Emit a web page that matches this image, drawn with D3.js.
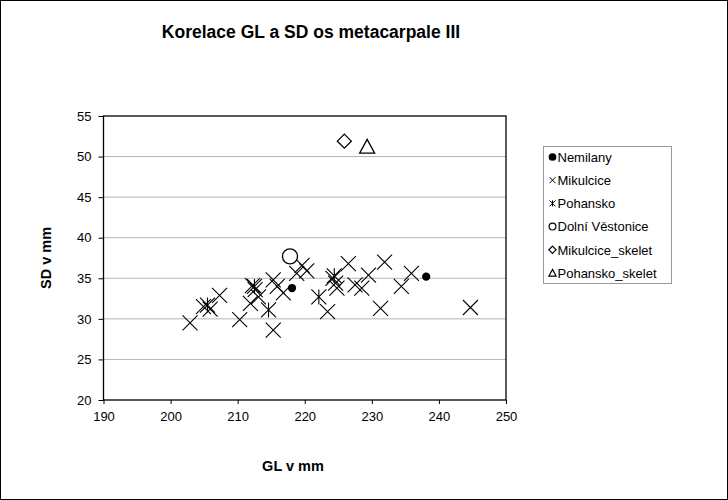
<!DOCTYPE html>
<html>
<head>
<meta charset="utf-8">
<script src="https://cdn.jsdelivr.net/npm/d3@7"></script>
<style>
  body { margin: 0; background: #fff; }
  text { font-family: Arial, "Liberation Sans", sans-serif; }
</style>
</head>
<body>
<div id="chart"></div>
<script>
// Data
const nemilany = [[218.1, 33.8], [238.1, 35.2]];
const mikulcice = [
    [202.9, 29.5], [204.9, 31.5], [205.9, 31.2], [207.3, 32.9], [210.3, 29.9],
    [212.6, 33.6], [211.9, 31.9], [213.1, 32.7], [215.3, 28.6], [215.3, 34.8],
    [215.9, 34.0], [216.8, 33.2], [219.6, 36.6], [218.8, 35.6], [220.3, 35.9],
    [223.4, 30.9], [224.6, 34.4], [224.8, 33.8], [226.5, 36.8], [229.5, 35.4],
    [227.5, 34.2], [228.5, 33.8], [231.9, 37.0], [234.4, 34.0], [235.9, 35.6],
    [231.3, 31.3], [244.7, 31.4], [212.2, 34.1], [224.2, 35.0]
];
const pohansko = [[214.6, 31.1], [222.1, 32.7], [205.5, 31.7], [212.5, 34.0], [224.4, 35.3]];
const dolniVestonice = [[217.8, 37.7]];
const mikulciceSkelet = [[225.9, 51.9]];
const pohanskoSkelet = [[229.3, 51.2]];

const seriesNames = ['Nemilany', 'Mikulcice', 'Pohansko', 'Dolní Věstonice', 'Mikulcice_skelet', 'Pohansko_skelet'];
const seriesData = [nemilany, mikulcice, pohansko, dolniVestonice, mikulciceSkelet, pohanskoSkelet];
const xTicks = [190, 200, 210, 220, 230, 240, 250];
const yTicks = [20, 25, 30, 35, 40, 45, 50, 55];

const width = 728, height = 500;
const plot = { left: 103.5, right: 506, top: 116, bottom: 400 };

const svg = d3.select('#chart').append('svg').attr('width', width).attr('height', height);
svg.append('rect').attr('x', 0.5).attr('y', 0.5).attr('width', width - 1).attr('height', height - 1)
    .attr('fill', '#fff').attr('stroke', '#000');

const xScale = d3.scaleLinear([190, 250], [plot.left, plot.right]);
const yScale = d3.scaleLinear([20, 55], [plot.bottom, plot.top]);

// Gridlines
svg.append('g').selectAll('line').data(yTicks.filter(t => t > 20 && t < 55))
    .join('line')
    .attr('x1', plot.left).attr('x2', plot.right)
    .attr('y1', d => yScale(d)).attr('y2', d => yScale(d))
    .attr('stroke', '#b4b4b4').attr('stroke-width', 1);

// Axes
const yAxis = svg.append('g').attr('transform', `translate(${plot.left}, 0)`)
    .call(d3.axisLeft(yScale).tickValues(yTicks).tickSize(5).tickPadding(7));
const xAxis = svg.append('g').attr('transform', `translate(0, ${plot.bottom})`)
    .call(d3.axisBottom(xScale).tickValues(xTicks).tickSize(4).tickPadding(8));
[xAxis, yAxis].forEach(a => {
    a.select('.domain').remove();
    a.selectAll('line').attr('stroke', '#000');
    a.selectAll('text').attr('font-size', 13).attr('fill', '#000')
        .attr('font-family', 'Arial, "Liberation Sans", sans-serif');
});

// Plot frame
svg.append('rect').attr('x', plot.left).attr('y', plot.top)
    .attr('width', plot.right - plot.left).attr('height', plot.bottom - plot.top)
    .attr('fill', 'none').attr('stroke', '#000').attr('stroke-width', 1.3);

// Marker shapes
const drawMarker = (g, type, s, sw) => {
    if (type === 0) {
        g.append('circle').attr('r', s * 0.55).attr('fill', '#000');
    } else if (type === 1) {
        g.append('path').attr('d', `M${-s},${-s}L${s},${s}M${-s},${s}L${s},${-s}`)
            .attr('stroke', '#000').attr('fill', 'none').attr('stroke-width', sw);
    } else if (type === 2) {
        g.append('path').attr('d', `M${-s},${-s}L${s},${s}M${-s},${s}L${s},${-s}M0,${-s}L0,${s}`)
            .attr('stroke', '#000').attr('fill', 'none').attr('stroke-width', sw);
    } else if (type === 3) {
        g.append('circle').attr('r', s).attr('fill', '#fff').attr('stroke', '#000').attr('stroke-width', sw + 0.2);
    } else if (type === 4) {
        g.append('path').attr('d', `M0,${-s}L${s},0L0,${s}L${-s},0Z`)
            .attr('fill', '#fff').attr('stroke', '#000').attr('stroke-width', sw + 0.2);
    } else {
        g.append('path').attr('d', `M0,${-s}L${s},${s * 0.85}L${-s},${s * 0.85}Z`)
            .attr('fill', '#fff').attr('stroke', '#000').attr('stroke-width', sw + 0.2);
    }
};

const plotSizes = [7.5, 7.5, 7.5, 7.5, 7, 7.5];
seriesData.forEach((points, i) => {
    svg.append('g').selectAll('g').data(points)
        .join('g')
        .attr('transform', d => `translate(${xScale(d[0])}, ${yScale(d[1])})`)
        .each(function() { drawMarker(d3.select(this), i, plotSizes[i], 1.1); });
});

// Titles
svg.append('text').attr('x', 311).attr('y', 38).attr('text-anchor', 'middle')
    .attr('font-size', 17.5).attr('font-weight', 'bold').text('Korelace GL a SD os metacarpale III');
svg.append('text').attr('x', 293).attr('y', 471).attr('text-anchor', 'middle')
    .attr('font-size', 14.5).attr('font-weight', 'bold').text('GL v mm');
svg.append('text').attr('transform', 'translate(51, 258) rotate(-90)').attr('text-anchor', 'middle')
    .attr('font-size', 14.5).attr('font-weight', 'bold').text('SD v mm');

// Legend
const legend = svg.append('g');
legend.append('rect').attr('x', 543.5).attr('y', 146.5).attr('width', 128).attr('height', 137)
    .attr('fill', '#fff').attr('stroke', '#999');
const legendSizes = [7, 3, 3, 3.4, 3.6, 3.6];
seriesNames.forEach((name, i) => {
    const y = 157 + i * 23.2;
    const g = legend.append('g').attr('transform', `translate(552.5, ${y})`);
    drawMarker(g, i, legendSizes[i], 1);
    legend.append('text').attr('x', 557.5).attr('y', y + 4.7).attr('font-size', 13).text(name);
});
</script>
</body>
</html>
